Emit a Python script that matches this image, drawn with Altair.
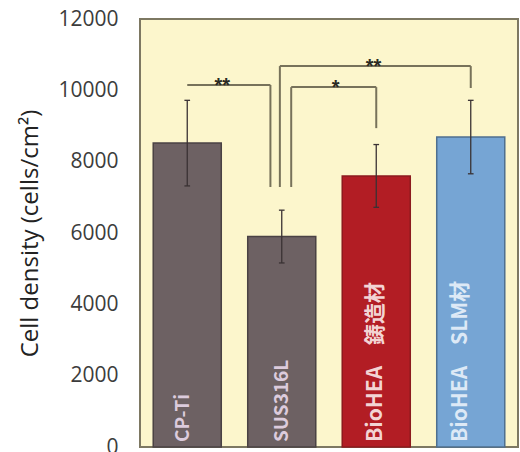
import altair as alt
import pandas as pd

# Cell density per substrate (mean ± SD)
categories = ["CP-Ti", "SUS316L", "BioHEA　鋳造材", "BioHEA　SLM材"]
means = [8520, 5900, 7600, 8690]
errors = [1200, 740, 880, 1030]
bar_colors = ["#6d6163", "#6d6163", "#b21d24", "#76a5d4"]
bar_strokes = ["#4a4244", "#4a4244", "#8c1a1e", "#4f6f8f"]
label_colors = ["#dccbdc", "#dccbdc", "#f3d4d4", "#dde9f6"]
label_sizes = [19, 19, 21, 21]
label_shift = [-0.04, 0.0, 0.0, -0.1]
positions = [0, 1, 2, 3]

# Significance brackets: left x, right x, top y, left drop y, right drop y, mark
br_left = [0.0, 1.10, 0.98]
br_right = [0.88, 2.0, 3.0]
br_top = [10150, 10090, 10680]
br_left_drop = [10150, 7290, 7290]
br_right_drop = [7290, 8940, 10065]
br_marks = ["**", "*", "**"]
mark_x = [0.37, 1.57, 1.97]

bars = pd.DataFrame({
    "cat": categories,
    "pos": positions,
    "mean": means,
    "lo": [m - e for m, e in zip(means, errors)],
    "hi": [m + e for m, e in zip(means, errors)],
    "color": bar_colors,
    "stroke": bar_strokes,
    "lcolor": label_colors,
    "lsize": label_sizes,
    "lpos": [p + s for p, s in zip(positions, label_shift)],
})
bars["x0"] = bars["pos"] - 0.36
bars["x1"] = bars["pos"] + 0.36
bars["c0"] = bars["pos"] - 0.03
bars["c1"] = bars["pos"] + 0.03

segs = []
for l, r, t, ld, rd in zip(br_left, br_right, br_top, br_left_drop, br_right_drop):
    segs.append({"x": l, "x2": r, "y": t, "y2": t})
    segs.append({"x": l, "x2": l, "y": t, "y2": ld})
    segs.append({"x": r, "x2": r, "y": t, "y2": rd})
segs = pd.DataFrame(segs)

stars = pd.DataFrame({"x": mark_x, "y": [t + 120 for t in br_top], "t": br_marks})

xs = alt.Scale(domain=[-0.5, 3.5], nice=False, zero=False)
ys = alt.Scale(domain=[0, 12000], nice=False)

base = alt.Chart(bars)

bar = base.mark_bar(strokeWidth=1.5).encode(
    x=alt.X("x0:Q", scale=xs, axis=None),
    x2="x1:Q",
    y=alt.Y("mean:Q", scale=ys, title="Cell density (cells/cm²)",
            axis=alt.Axis(values=[0, 2000, 4000, 6000, 8000, 10000, 12000],
                          format="d",
                          domain=False, ticks=False, grid=False,
                          labelFontSize=21, labelColor="#3c3c3c", labelPadding=22,
                          labelFont="Open Sans",
                          titleFont="Open Sans", titleFontSize=24,
                          titleFontWeight="normal", titleColor="#222222",
                          titlePadding=15)),
    y2=alt.datum(0),
    color=alt.Color("color:N", scale=None),
    stroke=alt.Stroke("stroke:N", scale=None),
)

err = base.mark_rule(color="#3a3234", strokeWidth=1.3).encode(
    x="pos:Q", y="lo:Q", y2="hi:Q")
cap_hi = base.mark_rule(color="#3a3234", strokeWidth=1.3).encode(
    x="c0:Q", x2="c1:Q", y="hi:Q")
cap_lo = base.mark_rule(color="#3a3234", strokeWidth=1.3).encode(
    x="c0:Q", x2="c1:Q", y="lo:Q")

labels = base.mark_text(angle=270, align="left", baseline="middle", dx=5,
                        fontWeight="bold", font="Noto Sans CJK JP").encode(
    x="lpos:Q", y=alt.datum(0), text="cat:N",
    size=alt.Size("lsize:Q", scale=None),
    color=alt.Color("lcolor:N", scale=None))

brackets = alt.Chart(segs).mark_rule(color="#77725a", strokeWidth=2).encode(
    x="x:Q", x2="x2:Q", y="y:Q", y2="y2:Q")

star_text = alt.Chart(stars).mark_text(fontSize=20, fontWeight="bold",
                                       color="#2a2a22", baseline="middle",
                                       dy=5).encode(
    x="x:Q", y="y:Q", text="t:N")

chart = alt.layer(bar, err, cap_hi, cap_lo, labels, brackets, star_text).properties(
    width=378, height=428,
    autosize=alt.AutoSizeParams(type="none"),
    padding={"left": 140, "top": 19, "right": 2, "bottom": 5},
).configure(
    background="white",
    view=alt.ViewConfig(fill="#fcf6cc", stroke="#7d7862", strokeWidth=2),
)

chart.save("out.html", embed_options={"renderer": "svg", "actions": False})
